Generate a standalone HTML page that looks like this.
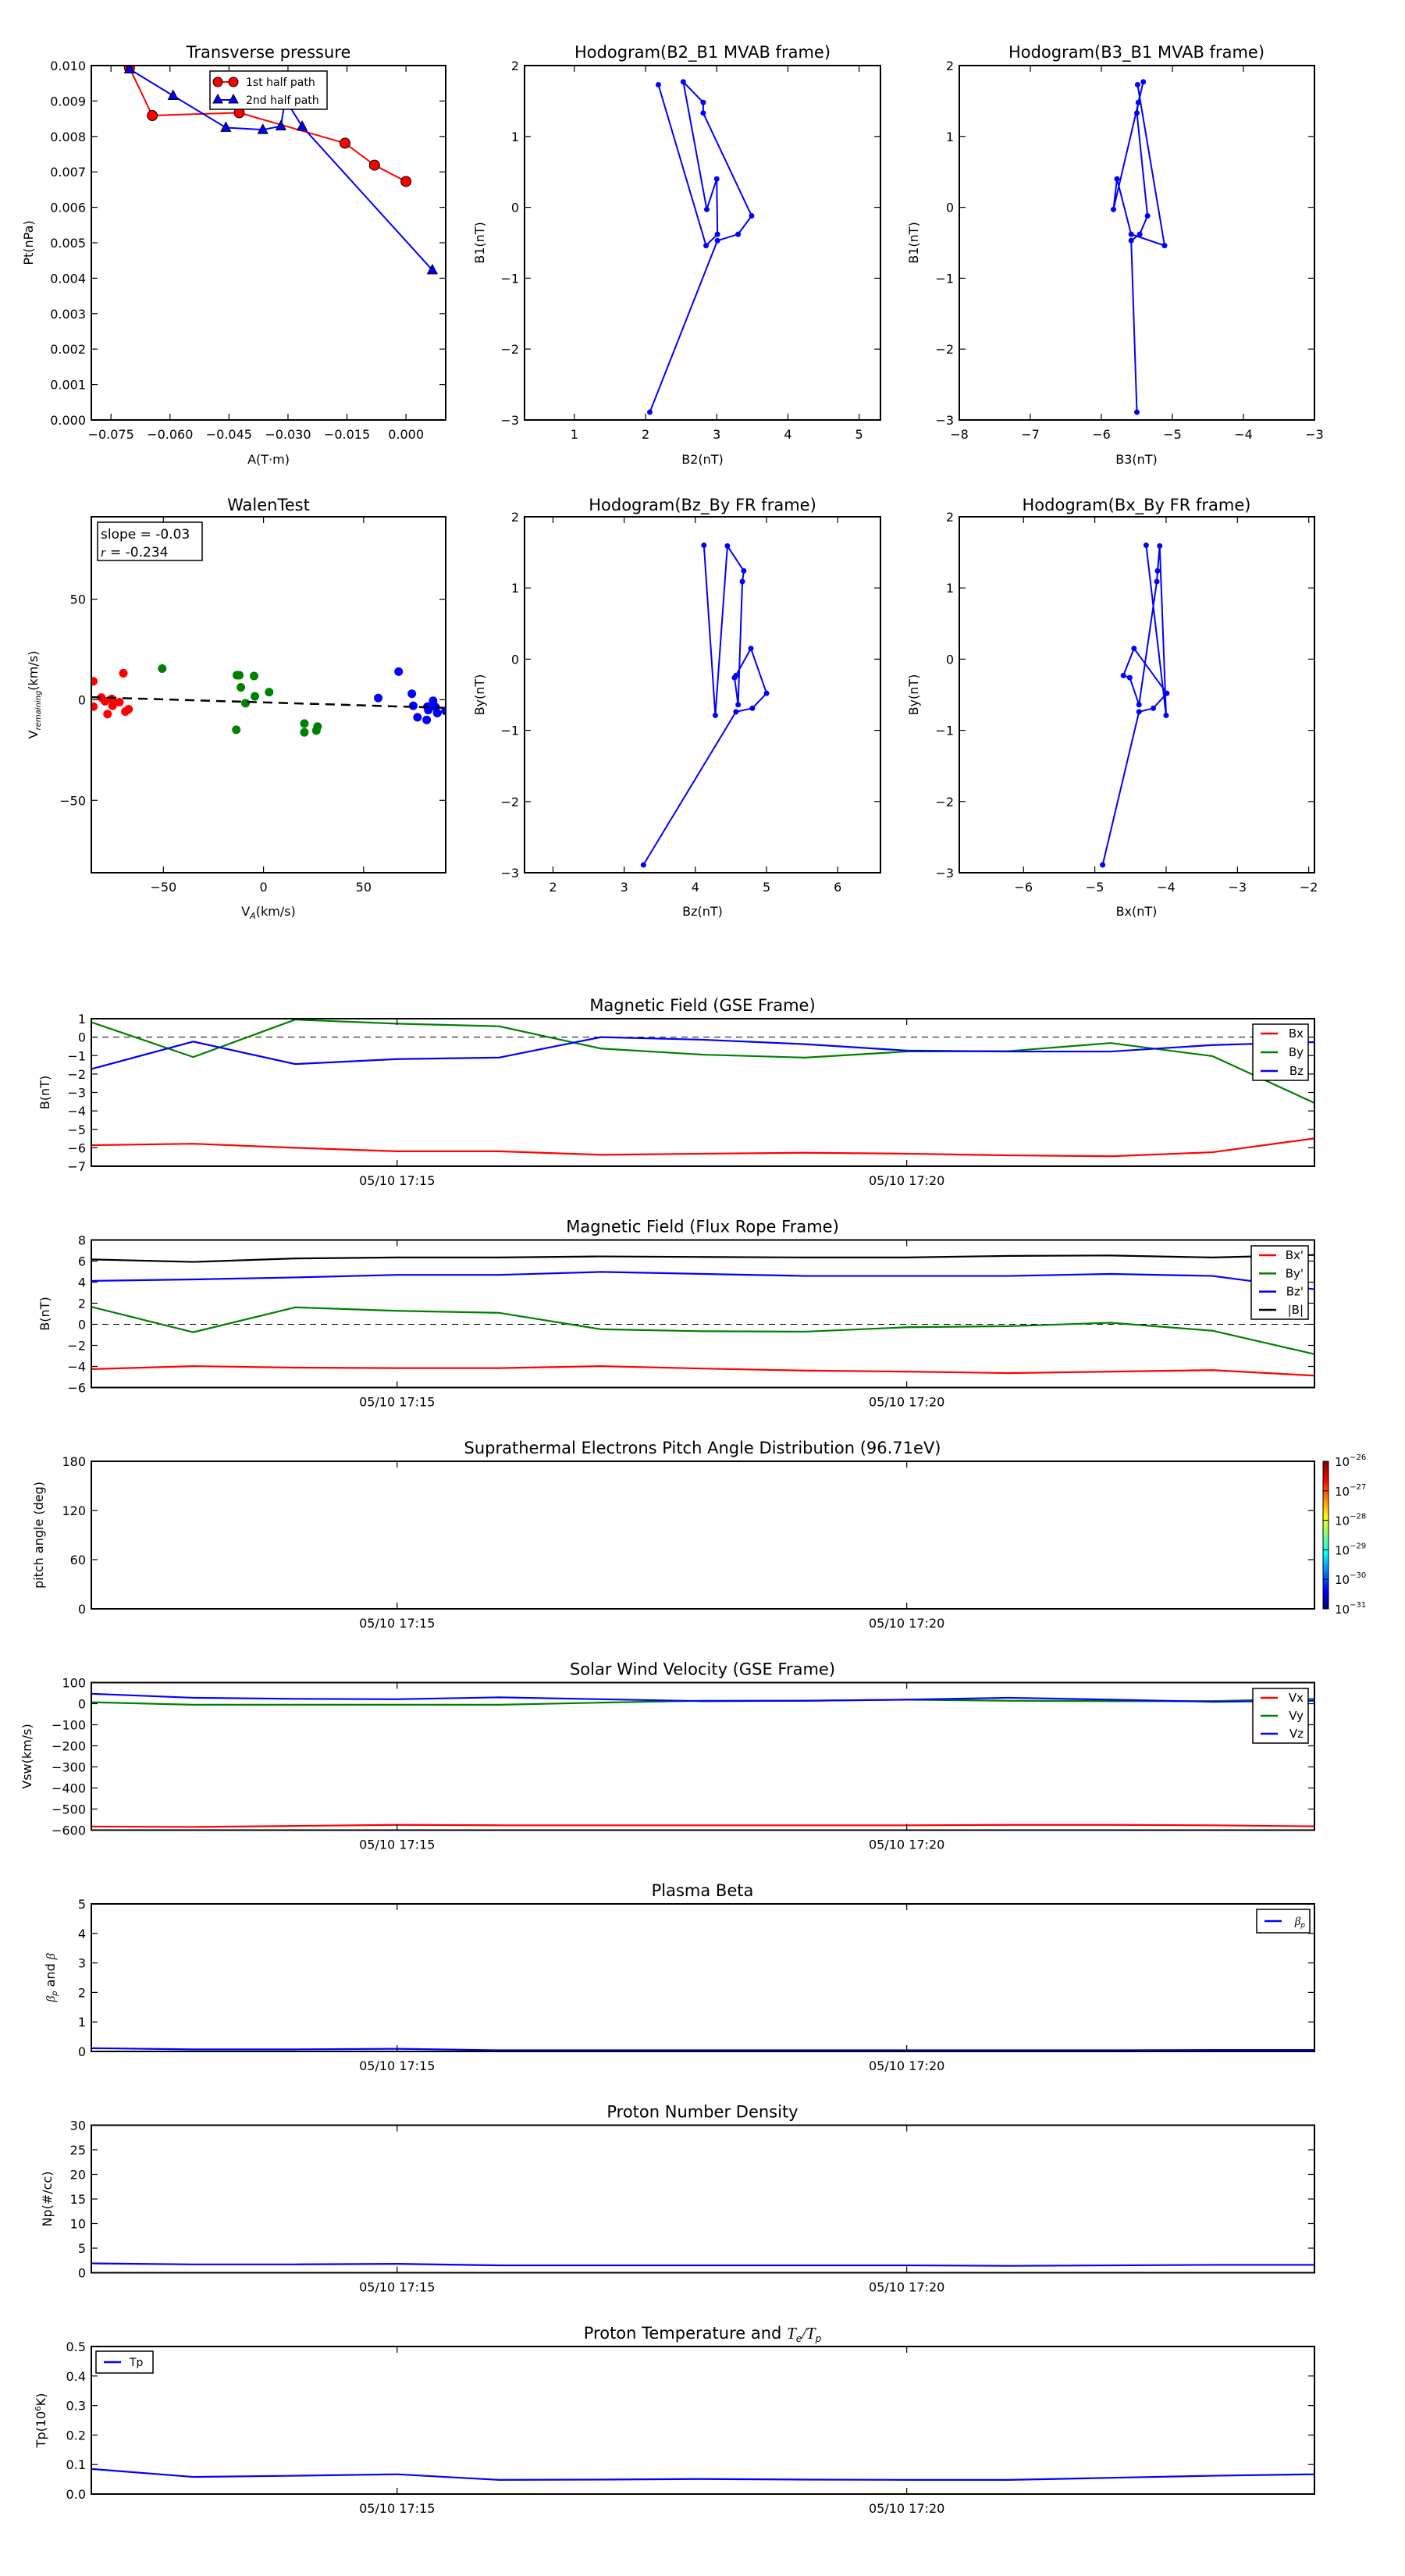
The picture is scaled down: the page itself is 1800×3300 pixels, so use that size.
<!DOCTYPE html>
<html><head><meta charset="utf-8">
<style>
html,body{margin:0;padding:0;background:#fff;}
svg{display:block;font-family:"DejaVu Sans","Liberation Sans",sans-serif;}
</style></head>
<body>
<svg id="chart" xmlns="http://www.w3.org/2000/svg" width="1800" height="3300" viewBox="0 0 1800 3300">
<rect x="0" y="0" width="1800" height="3300" fill="#fff"/>
<defs>
<linearGradient id="jet" x1="0" y1="1" x2="0" y2="0">
<stop offset="0" stop-color="#00007f"/><stop offset="0.125" stop-color="#0000ff"/><stop offset="0.375" stop-color="#00ffff"/>
<stop offset="0.5" stop-color="#7fff7f"/><stop offset="0.625" stop-color="#ffff00"/><stop offset="0.875" stop-color="#ff0000"/><stop offset="1" stop-color="#7f0000"/>
</linearGradient>
</defs>
</svg>
<script>
// ---- Transverse pressure data
const ptA1=[-0.0703,-0.0645,-0.0424,-0.0155,-0.0080,0.0];
const ptP1=[0.00994,0.00859,0.00867,0.00781,0.00719,0.00673];
const ptA2=[-0.0703,-0.0592,-0.0458,-0.0364,-0.0318,-0.0307,-0.0264,0.0067];
const ptP2=[0.0099,0.00915,0.00825,0.00819,0.00829,0.00905,0.00828,0.00423];
// ---- MVAB hodograms
const mvB1=[-2.89,-0.47,-0.38,-0.12,1.33,1.48,1.77,-0.03,0.40,-0.38,-0.54,1.73];
const mvB2=[2.06,3.01,3.30,3.49,2.81,2.81,2.53,2.86,3.00,3.01,2.85,2.18];
const mvB3=[-5.5,-5.58,-5.46,-5.35,-5.5,-5.48,-5.41,-5.83,-5.78,-5.58,-5.11,-5.49];
// ---- FR hodograms
const frBy=[-2.89,-0.74,-0.69,-0.48,0.15,-0.23,-0.26,-0.64,1.09,1.24,1.59,-0.79,1.60];
const frBz=[3.27,4.57,4.8,5.0,4.78,4.57,4.55,4.6,4.66,4.68,4.45,4.28,4.12];
const frBx=[-4.89,-4.38,-4.18,-3.99,-4.45,-4.6,-4.51,-4.38,-4.13,-4.12,-4.09,-4.0,-4.28];
// ---- Walen test
const walRedX=[-85,-85,-81,-79.2,-75.8,-75.4,-72,-77.9,-70,-69,-67.4];
const walRedY=[9.2,-3.4,1.1,-0.7,0.4,-3,-1.2,-7.1,13.2,-5.9,-4.7];
const walGreenX=[-50.6,-13.3,-12.1,-4.7,-11.3,-4.3,2.8,-9,-13.6,20.4,20.4,27,26.4];
const walGreenY=[15.5,12.2,12.2,11.8,6.2,1.7,3.8,-1.7,-14.9,-11.8,-16.2,-13.3,-15.3];
const walBlueX=[67.5,57.3,74.1,74.8,76.9,81.5,81.9,82.3,84.7,85.9,86.8,90.9];
const walBlueY=[14,0.9,3,-3,-8.7,-10,-3.4,-5.1,-0.5,-3.6,-6.6,-5.5];
const walSlope=-0.03, walIntercept=-1.3;
// ---- Time series (minutes after 17:12)
const tMin=[0,1,2,3,4,5,6,7,8,9,10,11,12];
const timeTicks=[3,8];
const timeTickLabels=['05/10 17:15','05/10 17:20'];
const gseBx=[-5.86,-5.78,-6.0,-6.19,-6.19,-6.38,-6.32,-6.27,-6.32,-6.41,-6.46,-6.24,-5.49];
const gseBy=[0.81,-1.08,0.95,0.73,0.59,-0.62,-0.95,-1.11,-0.78,-0.76,-0.32,-1.03,-3.57];
const gseBz=[-1.73,-0.24,-1.46,-1.19,-1.11,0.0,-0.14,-0.38,-0.73,-0.78,-0.78,-0.43,-0.27];
const frpBx=[-4.25,-3.97,-4.11,-4.16,-4.16,-3.97,-4.2,-4.39,-4.49,-4.63,-4.49,-4.35,-4.87];
const frpBy=[1.66,-0.75,1.61,1.28,1.09,-0.47,-0.66,-0.7,-0.28,-0.18,0.15,-0.61,-2.83];
const frpBz=[4.12,4.26,4.45,4.69,4.69,4.97,4.78,4.59,4.59,4.59,4.78,4.59,3.32];
const frpB=[6.16,5.92,6.25,6.34,6.34,6.44,6.39,6.34,6.34,6.49,6.53,6.34,6.58];
const vx=[-583,-585,-580,-575,-577,-577,-577,-577,-577,-575,-575,-577,-582];
const vy=[7,-5,-5,-5,-5,5,14,14,19,14,12,12,23];
const vz=[47,28,23,21,30,21,12,14,19,28,19,9,14];
const betaP=[0.11,0.07,0.07,0.09,0.04,0.04,0.04,0.04,0.04,0.04,0.04,0.05,0.05];
const np=[1.9,1.7,1.7,1.8,1.5,1.5,1.5,1.5,1.5,1.4,1.5,1.6,1.6];
const tp=[0.085,0.058,0.062,0.067,0.048,0.049,0.051,0.049,0.048,0.048,0.055,0.062,0.067];
const cbarExp=['−26','−27','−28','−29','−30','−31'];

const NS='http://www.w3.org/2000/svg';
const svg=document.getElementById('chart');
function mk(tag,attrs,parent){const e=document.createElementNS(NS,tag);for(const k in attrs)e.setAttribute(k,attrs[k]);(parent||svg).appendChild(e);return e;}
function txt(x,y,s,size,anchor,parent){const t=mk('text',{x:x,y:y,'font-size':size,'text-anchor':anchor||'middle',fill:'#000'},parent);t.textContent=s;return t;}
function fmt(v,d){const s=v.toFixed(d);return s.replace('-','−');}
let clipId=0;
function makeAxes(name,x0,y0,w,h,xd,yd,xt,xl,yt,yl){
  const g=mk('g',{});
  
  
  const sx=v=>x0+(v-xd[0])/(xd[1]-xd[0])*w;
  const sy=v=>y0+h-(v-yd[0])/(yd[1]-yd[0])*h;
  clipId++;
  const cp=mk('clipPath',{id:'c'+clipId},g);
  mk('rect',{x:x0,y:y0,width:w,height:h},cp);
  const data=mk('g',{'clip-path':'url(#c'+clipId+')'},g);
  
  
  return {sx,sy,g,data,x0,y0,w,h,xt,xl,yt,yl};
}
function finishAxes(A){
  const g=A.g;
  A.xt.forEach((t,i)=>{
    const x=A.sx(t);
    mk('line',{x1:x,y1:A.y0+A.h,x2:x,y2:A.y0+A.h-8,stroke:'#000','stroke-width':1.2},g);
    mk('line',{x1:x,y1:A.y0,x2:x,y2:A.y0+8,stroke:'#000','stroke-width':1.2},g);
    const l=txt(x,A.y0+A.h+24,A.xl[i],16,'middle',g);
    
    
  });
  A.yt.forEach((t,i)=>{
    const y=A.sy(t);
    mk('line',{x1:A.x0,y1:y,x2:A.x0+8,y2:y,stroke:'#000','stroke-width':1.2},g);
    mk('line',{x1:A.x0+A.w,y1:y,x2:A.x0+A.w-8,y2:y,stroke:'#000','stroke-width':1.2},g);
    const l=txt(A.x0-7,y+6,A.yl[i],16,'end',g);
    
    
  });
  const f=mk('rect',{x:A.x0,y:A.y0,width:A.w,height:A.h,fill:'none',stroke:'#000','stroke-width':2},g);
  
  
}
function poly(A,xs,ys,color,width,name,dash){
  const pts=xs.map((x,i)=>A.sx(x).toFixed(2)+','+A.sy(ys[i]).toFixed(2)).join(' ');
  const p=mk('polyline',{points:pts,fill:'none',stroke:color,'stroke-width':width,'stroke-linejoin':'round'},A.data);
  if(dash)p.setAttribute('stroke-dasharray',dash);
  
  
  return p;
}
function dots(A,xs,ys,color,r,name,stroke){
  xs.forEach((x,i)=>{
    const c=mk('circle',{cx:A.sx(x),cy:A.sy(ys[i]),r:r,fill:color,stroke:stroke||'none','stroke-width':1},A.data);
    
    
  });
}
function tris(A,xs,ys,color,s,name){
  xs.forEach((x,i)=>{
    const cx=A.sx(x),cy=A.sy(ys[i]);
    const t=mk('polygon',{points:`${cx},${cy-s} ${cx-s*0.9},${cy+s*0.7} ${cx+s*0.9},${cy+s*0.7}`,fill:color,stroke:'#000','stroke-width':1},A.data);
    
    
  });
}
function title(x,y,s,name){const t=txt(x,y,s,21,'middle');return t;}
function xlabel(x,y,s,name){const t=txt(x,y,s,16,'middle');return t;}
function ylabel(x,y,s,name){const t=txt(0,0,s,16,'middle');t.setAttribute('transform',`translate(${x},${y}) rotate(-90)`);return t;}
function range(a,b,s){const r=[];for(let v=a;v<=b+1e-9;v+=s)r.push(+v.toFixed(6));return r;}

// ===== Transverse pressure
{
  const xt=range(-0.075,0,0.015), yt=range(0,0.010,0.001);
  const A=makeAxes('transverse-pressure-chart',117,84,454,454,[-0.080,0.0101],[0,0.010],xt,xt.map(v=>fmt(v,3)),yt,yt.map(v=>v.toFixed(3)));
  poly(A,ptA1,ptP1,'#ff0000',2,'first-half-path-line');
  poly(A,ptA2,ptP2,'#0000ff',2,'second-half-path-line');
  dots(A,ptA1,ptP1,'#ff0000',6.5,'first-half-point','#000');
  tris(A,ptA2,ptP2,'#0000ff',7,'second-half-point');
  const lg=mk('g',{});
  
  
  mk('rect',{x:269,y:91,width:150,height:49,fill:'#fff',stroke:'#000','stroke-width':1.5},lg);
  mk('line',{x1:279,y1:105,x2:299,y2:105,stroke:'#f00','stroke-width':2},lg);
  mk('circle',{cx:279,cy:105,r:6,fill:'#f00',stroke:'#000'},lg);
  mk('circle',{cx:299,cy:105,r:6,fill:'#f00',stroke:'#000'},lg);
  txt(315,110,'1st half path',14,'start',lg);
  mk('line',{x1:279,y1:128,x2:299,y2:128,stroke:'#00f','stroke-width':2},lg);
  mk('polygon',{points:'279,121 273,132 285,132',fill:'#00f',stroke:'#000'},lg);
  mk('polygon',{points:'299,121 293,132 305,132',fill:'#00f',stroke:'#000'},lg);
  txt(315,133,'2nd half path',14,'start',lg);
  finishAxes(A);
  title(344,74,'Transverse pressure','transverse-pressure-title');
  xlabel(344,594,'A(T·m)','x-axis-title');
  ylabel(42,311,'Pt(nPa)','y-axis-title');
}
// ===== Hodogram B2_B1
{
  const xt=[1,2,3,4,5], yt=[-3,-2,-1,0,1,2];
  const A=makeAxes('hodogram-b2-b1',672,84,456,454,[0.3,5.3],[-3,2],xt,xt.map(String),yt,yt.map(v=>fmt(v,0)));
  poly(A,mvB2,mvB1,'#0000ff',2,'hodogram-b2-b1-line');
  dots(A,mvB2,mvB1,'#0000ff',3.5,'hodogram-b2-b1-point');
  finishAxes(A);
  title(900,74,'Hodogram(B2_B1 MVAB frame)','hodogram-b2-b1-title');
  xlabel(900,594,'B2(nT)','x-axis-title');
  ylabel(620,311,'B1(nT)','y-axis-title');
}
// ===== Hodogram B3_B1
{
  const xt=[-8,-7,-6,-5,-4,-3], yt=[-3,-2,-1,0,1,2];
  const A=makeAxes('hodogram-b3-b1',1229,84,455,454,[-8,-3],[-3,2],xt,xt.map(v=>fmt(v,0)),yt,yt.map(v=>fmt(v,0)));
  poly(A,mvB3,mvB1,'#0000ff',2,'hodogram-b3-b1-line');
  dots(A,mvB3,mvB1,'#0000ff',3.5,'hodogram-b3-b1-point');
  finishAxes(A);
  title(1456,74,'Hodogram(B3_B1 MVAB frame)','hodogram-b3-b1-title');
  xlabel(1456,594,'B3(nT)','x-axis-title');
  ylabel(1176,311,'B1(nT)','y-axis-title');
}
// ===== Walen test
{
  const xt=[-50,0,50], yt=[-50,0,50];
  const A=makeAxes('walen-test-chart',117,662,454,456,[-86,91],[-86,91],xt,xt.map(v=>fmt(v,0)),yt,yt.map(v=>fmt(v,0)));
  dots(A,walRedX,walRedY,'#ff0000',5.5,'walen-red-point');
  dots(A,walGreenX,walGreenY,'#008000',5.5,'walen-green-point');
  dots(A,walBlueX,walBlueY,'#0000ff',5.5,'walen-blue-point');
  const fx=[-86,91], fy=fx.map(x=>walSlope*x+walIntercept);
  poly(A,fx,fy,'#000',2.5,'walen-fit-line','12,8');
  const b=mk('g',{});
  
  
  mk('rect',{x:125,y:669,width:134,height:49,fill:'#fff',stroke:'#000','stroke-width':1.5},b);
  txt(129,690,'slope = -0.03',17,'start',b);
  const r=txt(129,713,'',17,'start',b);
  r.innerHTML='<tspan font-style="italic" font-family="Liberation Serif, serif">r</tspan> = -0.234';
  finishAxes(A);
  title(344,654,'WalenTest','walen-test-title');
  const xl=xlabel(344,1173,'','x-axis-title');
  xl.innerHTML='V<tspan font-size="11" dy="4" font-style="italic">A</tspan><tspan dy="-4">(km/s)</tspan>';
  const yl=ylabel(48,890,'','y-axis-title');
  yl.innerHTML='V<tspan font-size="10" dy="4" font-style="italic">remaining</tspan><tspan dy="-4">(km/s)</tspan>';
}
// ===== Hodogram Bz_By
{
  const xt=[2,3,4,5,6], yt=[-3,-2,-1,0,1,2];
  const A=makeAxes('hodogram-bz-by',672,662,456,456,[1.6,6.6],[-3,2],xt,xt.map(String),yt,yt.map(v=>fmt(v,0)));
  poly(A,frBz,frBy,'#0000ff',2,'hodogram-bz-by-line');
  dots(A,frBz,frBy,'#0000ff',3.5,'hodogram-bz-by-point');
  finishAxes(A);
  title(900,654,'Hodogram(Bz_By FR frame)','hodogram-bz-by-title');
  xlabel(900,1173,'Bz(nT)','x-axis-title');
  ylabel(620,890,'By(nT)','y-axis-title');
}
// ===== Hodogram Bx_By
{
  const xt=[-6,-5,-4,-3,-2], yt=[-3,-2,-1,0,1,2];
  const A=makeAxes('hodogram-bx-by',1229,662,455,456,[-6.9,-1.92],[-3,2],xt,xt.map(v=>fmt(v,0)),yt,yt.map(v=>fmt(v,0)));
  poly(A,frBx,frBy,'#0000ff',2,'hodogram-bx-by-line');
  dots(A,frBx,frBy,'#0000ff',3.5,'hodogram-bx-by-point');
  finishAxes(A);
  title(1456,654,'Hodogram(Bx_By FR frame)','hodogram-bx-by-title');
  xlabel(1456,1173,'Bx(nT)','x-axis-title');
  ylabel(1176,890,'By(nT)','y-axis-title');
}
// ===== time series panels
const TX=117,TW=1567,TH=189;
function legend(name,x,y,w,h,entries){
  const g=mk('g',{});
  
  
  mk('rect',{x:x,y:y,width:w,height:h,fill:'#fff',stroke:'#000','stroke-width':1.5},g);
  entries.forEach((e,i)=>{
    const yy=entries.length>1 ? y+12+i*(h-24)/(entries.length-1) : y+h/2;
    mk('line',{x1:x+10,y1:yy,x2:x+32,y2:yy,stroke:e[1],'stroke-width':2.5},g);
    const t=txt(x+w-6,yy+5,'',15,'end',g);
    t.innerHTML=e[0];
  });
}
function tsPanel(name,top,yd,yt,yl,titleStr,ylab,ylabX){
  const A=makeAxes(name,TX,top,TW,TH,[0,12],yd,timeTicks,timeTickLabels,yt,yl);
  const t=title(900,top-10,'',name+'-title');
  t.innerHTML=titleStr;
  const y=ylabel(ylabX,top+TH/2,'',name+'-y-axis-title');
  y.innerHTML=ylab;
  return A;
}
{
  const yt=range(-7,1,1);
  const A=tsPanel('magnetic-field-gse',1305,[-7,1],yt,yt.map(v=>fmt(v,0)),'Magnetic Field (GSE Frame)','B(nT)',63);
  poly(A,[0,12],[0,0],'#000',1,'zero-line','8,6');
  poly(A,tMin,gseBx,'#ff0000',2.2,'bx-line');
  poly(A,tMin,gseBy,'#008000',2.2,'by-line');
  poly(A,tMin,gseBz,'#0000ff',2.2,'bz-line');
  legend('gse-legend',1605,1312,71,72,[['Bx','#f00'],['By','#008000'],['Bz','#00f']]);
  finishAxes(A);
}
{
  const yt=range(-6,8,2);
  const A=tsPanel('magnetic-field-flux-rope',1588.5,[-6,8],yt,yt.map(v=>fmt(v,0)),'Magnetic Field (Flux Rope Frame)','B(nT)',63);
  poly(A,[0,12],[0,0],'#000',1,'zero-line','8,6');
  poly(A,tMin,frpBx,'#ff0000',2.2,'bx-prime-line');
  poly(A,tMin,frpBy,'#008000',2.2,'by-prime-line');
  poly(A,tMin,frpBz,'#0000ff',2.2,'bz-prime-line');
  poly(A,tMin,frpB,'#000000',2.2,'b-magnitude-line');
  legend('flux-rope-legend',1603,1596,73,94,[["Bx'",'#f00'],["By'",'#008000'],["Bz'",'#00f'],['|B|','#000']]);
  finishAxes(A);
}
{
  const yt=[0,60,120,180];
  const A=tsPanel('pitch-angle-distribution',1872,[0,180],yt,yt.map(String),'Suprathermal Electrons Pitch Angle Distribution (96.71eV)','pitch angle (deg)',55);
  finishAxes(A);
  const cb=mk('g',{});
  
  
  mk('rect',{x:1695,y:1872,width:7,height:189,fill:'url(#jet)',stroke:'#000','stroke-width':1},cb);
  cbarExp.forEach((e,i)=>{
    const yy=1872+i*189/5;
    mk('line',{x1:1695,y1:yy,x2:1702,y2:yy,stroke:'#000'},cb);
    const t=txt(1710,yy+6,'',15,'start',cb);
    t.innerHTML='10<tspan font-size="10" dy="-8">'+e+'</tspan>';
  });
}
{
  const yt=range(-600,100,100);
  const A=tsPanel('solar-wind-velocity',2155.5,[-600,100],yt,yt.map(v=>fmt(v,0)),'Solar Wind Velocity (GSE Frame)','Vsw(km/s)',40);
  poly(A,tMin,vx,'#ff0000',2.2,'vx-line');
  poly(A,tMin,vy,'#008000',2.2,'vy-line');
  poly(A,tMin,vz,'#0000ff',2.2,'vz-line');
  legend('velocity-legend',1605,2163,71,70,[['Vx','#f00'],['Vy','#008000'],['Vz','#00f']]);
  finishAxes(A);
}
{
  const yt=range(0,5,1);
  const A=tsPanel('plasma-beta',2439,[0,5],yt,yt.map(String),'Plasma Beta','<tspan font-style="italic" font-family="Liberation Serif, serif">β</tspan><tspan font-size="10" dy="3" font-style="italic">p</tspan><tspan dy="-3"> and </tspan><tspan font-style="italic" font-family="Liberation Serif, serif">β</tspan>',70);
  poly(A,tMin,betaP,'#0000ff',2.2,'beta-p-line');
  legend('beta-legend',1610,2446,68,30,[['<tspan font-style="italic" font-family="Liberation Serif, serif">β</tspan><tspan font-size="9" dy="3" font-style="italic">p</tspan>','#00f']]);
  finishAxes(A);
}
{
  const yt=range(0,30,5);
  const A=tsPanel('proton-number-density',2722.5,[0,30],yt,yt.map(String),'Proton Number Density','Np(#/cc)',66);
  poly(A,tMin,np,'#0000ff',2.2,'np-line');
  finishAxes(A);
}
{
  const yt=range(0,0.5,0.1);
  const A=tsPanel('proton-temperature',3006,[0,0.5],yt,yt.map(v=>v.toFixed(1)),'Proton Temperature and <tspan font-style="italic" font-family="Liberation Serif, serif">T</tspan><tspan font-size="12" dy="4" font-style="italic">e</tspan><tspan dy="-4" font-family="Liberation Serif, serif" font-style="italic">/T</tspan><tspan font-size="12" dy="4" font-style="italic">p</tspan>','Tp(10<tspan font-size="10" dy="-6">6</tspan><tspan dy="6">K)</tspan>',58);
  poly(A,tMin,tp,'#0000ff',2.2,'tp-line');
  const g=mk('g',{});
  
  
  mk('rect',{x:123,y:3012,width:73,height:28,fill:'#fff',stroke:'#000','stroke-width':1.5},g);
  mk('line',{x1:133,y1:3026,x2:155,y2:3026,stroke:'#00f','stroke-width':2.5},g);
  txt(166,3031,'Tp',14,'start',g);
  finishAxes(A);
}
</script>
</body></html>
